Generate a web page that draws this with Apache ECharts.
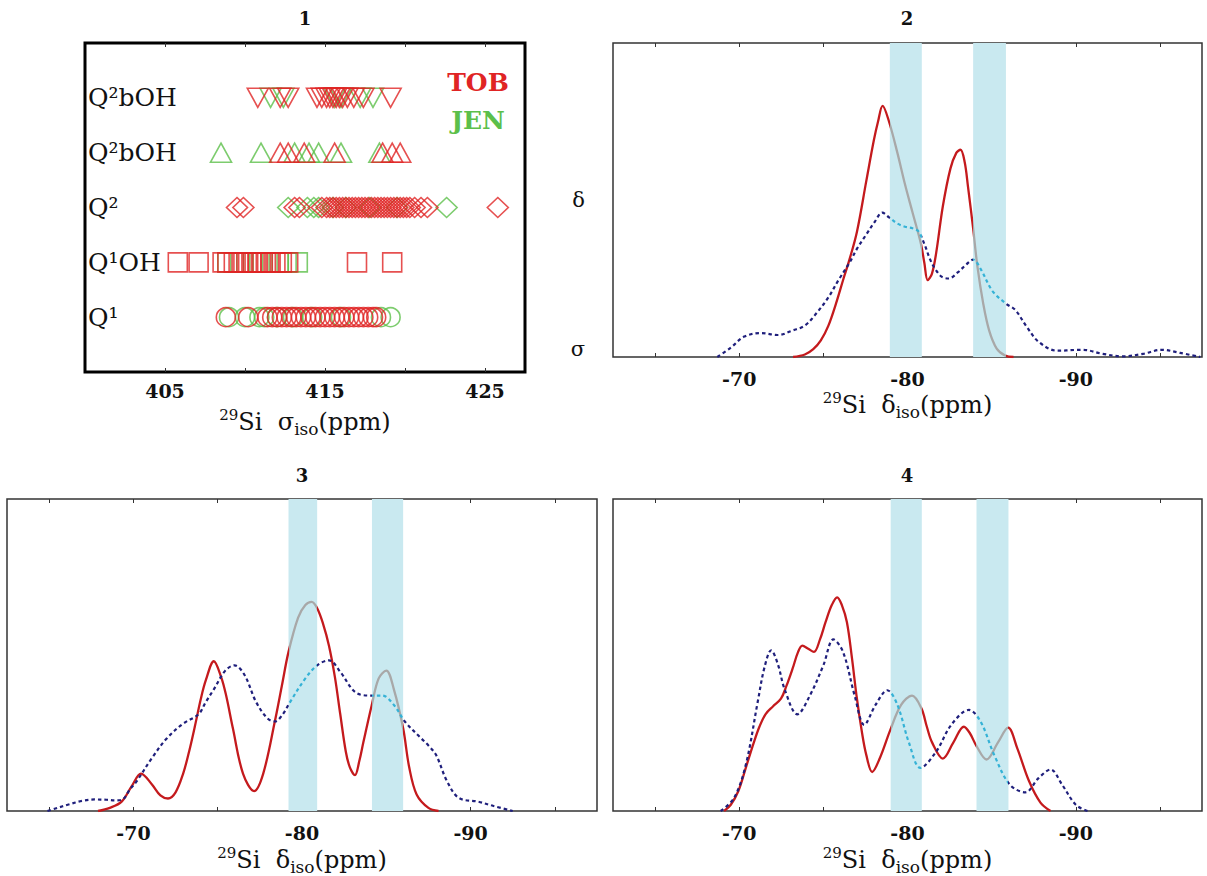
<!DOCTYPE html>
<html><head><meta charset="utf-8">
<script src="https://cdn.jsdelivr.net/npm/echarts@6/dist/echarts.min.js"></script>
<style>html,body{margin:0;padding:0;background:#fff}#c{width:1207px;height:876px}</style>
</head><body><div id="c"></div>
<script>
// ---------- Panel 1 data (29Si sigma_iso, ppm) ----------
const ROW_LABELS = ['', 'Q¹', 'Q¹OH', 'Q²', 'Q²bOH', 'Q²bOH', ''];
const ROW_VALUES = [1, 2, 3, 4, 5];
const SIGMA_TICKS = [405, 410, 415, 420, 425];
const SIGMA_LABELS = [405, 415, 425];

const JEN_Q1 = [409.0, 410.0, 410.9, 411.2, 412.0, 413.0, 414.2, 416.0, 418.5, 419.1];
const TOB_Q1 = [408.8, 410.2, 411.4, 411.7, 412.0, 412.3, 412.6, 412.9, 413.2, 413.5, 413.8, 414.1, 414.4, 414.7, 415.0, 415.3, 415.6, 415.9, 416.2, 416.5, 416.8, 417.1, 417.4, 417.7, 418.0, 418.2];
const JEN_Q1OH = [408.9, 409.7, 410.5, 411.1, 412.1, 412.6, 413.3];
const TOB_Q1OH = [405.8, 407.1, 408.6, 408.9, 409.3, 409.6, 409.9, 410.2, 410.4, 410.6, 410.8, 411.0, 411.3, 411.6, 411.9, 412.3, 412.7, 417.0, 419.2];
const JEN_Q2 = [412.7, 413.9, 414.3, 414.6, 415.5, 416.3, 417.8, 419.5, 422.6];
const TOB_Q2 = [409.5, 409.9, 413.1, 413.4, 414.8, 415.1, 415.3, 415.5, 415.7, 415.9, 416.1, 416.3, 416.5, 416.7, 416.9, 417.1, 417.3, 417.5, 417.7, 417.9, 418.1, 418.3, 418.5, 418.7, 418.9, 419.1, 419.3, 419.5, 419.7, 419.9, 420.1, 420.3, 420.6, 421.0, 421.4, 425.8];
const JEN_Q2BOH_UP = [408.5, 411.0, 413.1, 414.0, 414.6, 416.0, 418.4];
const TOB_Q2BOH_UP = [412.2, 412.7, 413.7, 415.6, 418.6, 419.2, 419.7];
const JEN_Q2BOH_DN = [411.6, 412.4, 415.6, 416.0, 417.2, 418.0];
const TOB_Q2BOH_DN = [410.8, 412.2, 412.7, 414.5, 414.8, 415.1, 415.3, 415.5, 415.7, 415.9, 416.1, 416.4, 416.8, 417.4, 419.1];

// ---------- Panels 2-4 (29Si delta_iso, ppm ; relative intensity) ----------
const DELTA_TICKS = [-65, -70, -75, -80, -85, -90, -95];
const DELTA_LABELS = [-70, -80, -90];
const P2_Y_TICKS = [0.025, 0.5];
const P2_Y_TEXT = ['σ', 'δ'];

const BANDS_2 = [[-78.95, -80.85], [-83.9, -85.85]];
const BANDS_3 = [[-79.2, -80.9], [-84.15, -86.0]];
const BANDS_4 = [[-79.0, -80.85], [-84.1, -86.0]];

const P2_SOLID = [[-73.2,0],[-73.9,0.008],[-74.4,0.025],[-74.85,0.053],[-75.3,0.10],[-75.75,0.17],[-76.2,0.25],[-76.55,0.31],[-77.0,0.40],[-77.55,0.56],[-78.0,0.69],[-78.25,0.75],[-78.52,0.80],[-78.9,0.75],[-79.4,0.65],[-79.85,0.55],[-80.3,0.46],[-80.8,0.36],[-81.0,0.30],[-81.2,0.245],[-81.45,0.265],[-81.7,0.33],[-82.1,0.48],[-82.55,0.60],[-82.9,0.65],[-83.15,0.66],[-83.4,0.62],[-83.6,0.54],[-83.9,0.41],[-84.15,0.29],[-84.5,0.17],[-84.85,0.085],[-85.3,0.027],[-85.8,0.005],[-86.3,0]];
const P2_DOTTED = [[-68.7,0],[-69.5,0.03],[-70.3,0.065],[-71.3,0.076],[-72.3,0.07],[-73.2,0.085],[-73.9,0.10],[-74.6,0.14],[-75.3,0.19],[-75.9,0.245],[-76.55,0.30],[-77.0,0.345],[-77.55,0.39],[-78.05,0.43],[-78.5,0.46],[-78.9,0.445],[-79.4,0.425],[-79.85,0.415],[-80.3,0.41],[-80.65,0.40],[-81.0,0.36],[-81.35,0.31],[-81.65,0.28],[-82.05,0.255],[-82.45,0.25],[-83.0,0.27],[-83.5,0.295],[-83.9,0.31],[-84.35,0.28],[-85.05,0.21],[-85.85,0.17],[-86.4,0.15],[-87.1,0.095],[-87.8,0.048],[-88.9,0.02],[-90.4,0.023],[-91.6,0.01],[-92.8,0.002],[-94.0,0.01],[-95.1,0.023],[-96.2,0.013],[-97.4,0]];

const P3_SOLID = [[-67.9,0],[-68.6,0.01],[-69.3,0.03],[-69.9,0.08],[-70.45,0.12],[-71.1,0.085],[-71.6,0.05],[-72.05,0.04],[-72.5,0.06],[-72.95,0.12],[-73.3,0.19],[-73.64,0.27],[-74.0,0.36],[-74.3,0.42],[-74.77,0.48],[-75.2,0.43],[-75.5,0.37],[-75.9,0.265],[-76.5,0.12],[-77.16,0.064],[-77.7,0.12],[-78.4,0.29],[-78.8,0.40],[-79.2,0.51],[-79.77,0.62],[-80.2,0.66],[-80.57,0.67],[-80.9,0.65],[-81.25,0.60],[-81.6,0.53],[-81.95,0.43],[-82.27,0.31],[-82.6,0.19],[-82.84,0.14],[-83.14,0.115],[-83.4,0.16],[-83.64,0.22],[-84.14,0.34],[-84.55,0.425],[-85.0,0.45],[-85.45,0.39],[-86.0,0.265],[-86.36,0.14],[-86.8,0.053],[-87.5,0.01],[-88.1,0]];
const P3_DOTTED = [[-64.9,0],[-65.5,0.01],[-66.1,0.02],[-67.0,0.033],[-67.7,0.037],[-68.4,0.036],[-68.9,0.034],[-69.35,0.037],[-69.8,0.07],[-70.2,0.096],[-71.1,0.17],[-72.0,0.234],[-72.95,0.28],[-73.86,0.31],[-74.3,0.35],[-74.77,0.39],[-75.45,0.45],[-76.0,0.467],[-76.6,0.435],[-77.27,0.35],[-77.95,0.297],[-78.4,0.287],[-78.86,0.31],[-79.3,0.35],[-80.2,0.425],[-80.9,0.467],[-81.6,0.483],[-82.27,0.446],[-83.18,0.38],[-84.1,0.37],[-84.77,0.37],[-85.45,0.34],[-86.1,0.287],[-87.05,0.234],[-87.5,0.21],[-87.95,0.18],[-88.6,0.096],[-89.3,0.042],[-90.45,0.03],[-91.36,0.016],[-92.5,0]];

const P4_SOLID = [[-69.1,0],[-69.5,0.02],[-69.95,0.064],[-70.4,0.14],[-70.87,0.22],[-71.2,0.27],[-71.56,0.31],[-72.0,0.335],[-72.48,0.36],[-72.8,0.40],[-73.17,0.456],[-73.5,0.51],[-73.75,0.53],[-74.1,0.52],[-74.44,0.51],[-74.8,0.55],[-75.13,0.605],[-75.5,0.66],[-75.82,0.685],[-76.1,0.66],[-76.4,0.605],[-76.7,0.49],[-76.97,0.37],[-77.3,0.25],[-77.55,0.18],[-77.9,0.125],[-78.36,0.17],[-78.98,0.26],[-79.62,0.34],[-80.27,0.37],[-80.82,0.33],[-81.15,0.27],[-81.46,0.22],[-82.1,0.168],[-82.73,0.22],[-83.35,0.27],[-83.7,0.25],[-84.11,0.207],[-84.69,0.165],[-85.38,0.22],[-85.98,0.267],[-86.53,0.2],[-87.22,0.096],[-87.9,0.027],[-88.5,0]];
const P4_DOTTED = [[-68.9,0],[-69.7,0.042],[-70.4,0.15],[-71.1,0.35],[-71.5,0.46],[-71.9,0.515],[-72.3,0.47],[-72.7,0.39],[-73.45,0.31],[-74.2,0.37],[-75.0,0.467],[-75.6,0.55],[-76.17,0.51],[-76.86,0.37],[-77.43,0.276],[-78.1,0.34],[-78.8,0.387],[-79.4,0.34],[-80.08,0.22],[-80.77,0.138],[-81.7,0.19],[-82.6,0.276],[-83.65,0.324],[-84.34,0.287],[-85.15,0.18],[-86.07,0.085],[-87.0,0.06],[-87.8,0.106],[-88.5,0.133],[-89.18,0.085],[-90.0,0.02],[-90.7,0]];

// ---------- styling ----------
const SERIF = "'DejaVu Serif','Liberation Serif',serif";
const RED = '#c41a1d', GRAY = '#a8a8a8', NAVY = '#1f1f7c', CYAN = '#35b2d6', BAND = '#c9e9f0';
const PT_RED = '#e02424', PT_GREEN = '#5cbf4a';

const chart = echarts.init(document.getElementById('c'), null, {renderer: 'svg'});

const grids = [
  {left: 85, top: 43, width: 440, height: 329, show: true, borderColor: '#000', borderWidth: 3, backgroundColor: '#fff'},
  {left: 613, top: 43, width: 589, height: 314, show: true, borderColor: '#333', borderWidth: 1.5},
  {left: 7, top: 499, width: 590, height: 314, show: true, borderColor: '#333', borderWidth: 1.5},
  {left: 613, top: 499, width: 589, height: 314, show: true, borderColor: '#333', borderWidth: 1.5}
];

const nameRich = {
  sup: {fontFamily: SERIF, fontSize: 15, verticalAlign: 'top', lineHeight: 15, color: '#111'},
  m: {fontFamily: SERIF, fontSize: 24, lineHeight: 30, color: '#111'},
  sub: {fontFamily: SERIF, fontSize: 17, verticalAlign: 'bottom', lineHeight: 17, color: '#111'}
};
const tickLabelStyle = {fontFamily: SERIF, fontSize: 19, fontWeight: 'bold', color: '#111'};

function xPair(g, min, max, inverse, ticks, labels, name, gap, margin) {
  return [
    {gridIndex: g, type: 'value', min, max, inverse, position: 'bottom',
     axisLine: {show: false}, splitLine: {show: false},
     axisTick: {show: true, inside: true, length: 4, customValues: ticks, lineStyle: {color: '#333', width: 1}},
     axisLabel: Object.assign({customValues: labels, formatter: v => String(v), margin}, tickLabelStyle),
     name, nameLocation: 'middle', nameGap: gap, nameTextStyle: {rich: nameRich}},
    {gridIndex: g, type: 'value', min, max, inverse, position: 'top',
     axisLine: {show: false}, splitLine: {show: false},
     axisTick: {show: true, inside: true, length: 4, customValues: ticks, lineStyle: {color: '#333', width: 1}},
     axisLabel: {show: false}}
  ];
}

const xAxis = [].concat(
  xPair(0, 400, 427.5, false, SIGMA_TICKS, SIGMA_LABELS, '{sup|29}{m|Si  σ}{sub|iso}{m|(ppm)}', 35, 9),
  xPair(1, -97.5, -62.5, true, DELTA_TICKS, DELTA_LABELS, '{sup|29}{m|Si  δ}{sub|iso}{m|(ppm)}', 33, 12),
  xPair(2, -97.5, -62.5, true, DELTA_TICKS, DELTA_LABELS, '{sup|29}{m|Si  δ}{sub|iso}{m|(ppm)}', 34, 12),
  xPair(3, -97.5, -62.5, true, DELTA_TICKS, DELTA_LABELS, '{sup|29}{m|Si  δ}{sub|iso}{m|(ppm)}', 34, 12)
);

const yAxis = [
  {gridIndex: 0, type: 'value', min: 0, max: 6, axisLine: {show: false}, axisTick: {show: false}, splitLine: {show: false},
   axisLabel: {inside: true, margin: 3, customValues: ROW_VALUES, formatter: v => ROW_LABELS[v], fontFamily: SERIF, fontSize: 25, color: '#111'}},
  {gridIndex: 1, type: 'value', min: 0, max: 1, axisLine: {show: false}, axisTick: {show: false}, splitLine: {show: false},
   axisLabel: {customValues: P2_Y_TICKS, formatter: v => P2_Y_TEXT[P2_Y_TICKS.indexOf(v)], margin: 28, fontFamily: SERIF, fontSize: 21, color: '#111'}},
  {gridIndex: 2, type: 'value', min: 0, max: 1, show: false},
  {gridIndex: 3, type: 'value', min: 0, max: 1, show: false}
];

const series = [];
const visualMap = [];

function addScatter(arr, row, color, symbol, rotate, size, name) {
  series.push({type: 'scatter', name, xAxisIndex: 0, yAxisIndex: 0, silent: true,
    data: arr.map(v => [v, row]), symbol, symbolRotate: rotate, symbolSize: size,
    itemStyle: {color: 'rgba(255,255,255,0)', borderColor: color, borderWidth: 1.6}, z: 3});
}
addScatter(JEN_Q1, 1, PT_GREEN, 'circle', 0, 19, 'JEN');
addScatter(TOB_Q1, 1, PT_RED, 'circle', 0, 19, 'TOB');
addScatter(JEN_Q1OH, 2, PT_GREEN, 'rect', 0, 19, 'JEN');
addScatter(TOB_Q1OH, 2, PT_RED, 'rect', 0, 19, 'TOB');
addScatter(JEN_Q2, 3, PT_GREEN, 'diamond', 0, [21, 20], 'JEN');
addScatter(TOB_Q2, 3, PT_RED, 'diamond', 0, [21, 20], 'TOB');
addScatter(JEN_Q2BOH_UP, 4, PT_GREEN, 'triangle', 0, [21, 19], 'JEN');
addScatter(TOB_Q2BOH_UP, 4, PT_RED, 'triangle', 0, [21, 19], 'TOB');
addScatter(JEN_Q2BOH_DN, 5, PT_GREEN, 'triangle', 180, [21, 19], 'JEN');
addScatter(TOB_Q2BOH_DN, 5, PT_RED, 'triangle', 180, [21, 19], 'TOB');

function addPanel(g, bands, solid, dotted) {
  series.push({type: 'line', xAxisIndex: 2 * g, yAxisIndex: g, data: [], silent: true, z: 1,
    markArea: {silent: true, itemStyle: {color: BAND}, data: bands.map(b => [{xAxis: b[0]}, {xAxis: b[1]}])}});
  const pieces = bands.map(b => ({min: Math.min(b[0], b[1]), max: Math.max(b[0], b[1])}));
  visualMap.push({type: 'piecewise', show: false, seriesIndex: series.length, dimension: 0,
    pieces: pieces.map(p => Object.assign({color: GRAY}, p)), outOfRange: {color: RED}});
  series.push({type: 'line', xAxisIndex: 2 * g, yAxisIndex: g, data: solid, smooth: 0.35, showSymbol: false, silent: true,
    lineStyle: {width: 2.3}, z: 3});
  visualMap.push({type: 'piecewise', show: false, seriesIndex: series.length, dimension: 0,
    pieces: pieces.map(p => Object.assign({color: CYAN}, p)), outOfRange: {color: NAVY}});
  series.push({type: 'line', xAxisIndex: 2 * g, yAxisIndex: g, data: dotted, smooth: 0.35, showSymbol: false, silent: true,
    lineStyle: {width: 2.2, type: [3.5, 3]}, z: 4});
}
addPanel(1, BANDS_2, P2_SOLID, P2_DOTTED);
addPanel(2, BANDS_3, P3_SOLID, P3_DOTTED);
addPanel(3, BANDS_4, P4_SOLID, P4_DOTTED);

const titleStyle = {font: "bold 18px " + SERIF, fill: '#111', align: 'center', verticalAlign: 'middle'};
const graphic = [
  {type: 'text', x: 305, y: 18, style: Object.assign({text: '1'}, titleStyle)},
  {type: 'text', x: 907, y: 18, style: Object.assign({text: '2'}, titleStyle)},
  {type: 'text', x: 302, y: 475, style: Object.assign({text: '3'}, titleStyle)},
  {type: 'text', x: 907, y: 475, style: Object.assign({text: '4'}, titleStyle)},
  {type: 'text', x: 478, y: 82, z: 10, style: {text: 'TOB', font: "bold 25px " + SERIF, fill: PT_RED, align: 'center', verticalAlign: 'middle'}},
  {type: 'text', x: 478, y: 120, z: 10, style: {text: 'JEN', font: "bold 25px " + SERIF, fill: PT_GREEN, align: 'center', verticalAlign: 'middle'}}
];

chart.setOption({
  animation: false,
  backgroundColor: '#fff',
  grid: grids,
  xAxis, yAxis, series, visualMap, graphic
});
</script></body></html>
